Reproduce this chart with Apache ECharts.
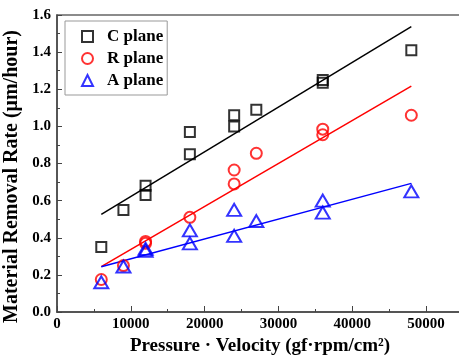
<!DOCTYPE html>
<html>
<head>
<meta charset="utf-8">
<script src="https://cdn.jsdelivr.net/npm/echarts@6/dist/echarts.min.js"></script>
<style>
  html, body { margin: 0; padding: 0; background: #fff; }
  #main { width: 459px; height: 358px; }
</style>
</head>
<body>
<div id="main"></div>
<script>
// measured points
var pvC = [6000, 9000, 12000, 12000, 18000, 18000, 24000, 24000, 27000, 36000, 36000, 48000];
var rateC = [0.35, 0.55, 0.68, 0.63, 0.97, 0.85, 1.06, 1.00, 1.09, 1.25, 1.235, 1.41];
var pvR = [6000, 9000, 12000, 12000, 18000, 24000, 24000, 27000, 36000, 36000, 48000];
var rateR = [0.175, 0.25, 0.38, 0.37, 0.51, 0.765, 0.69, 0.855, 0.985, 0.955, 1.06];
var pvA = [6000, 9000, 12000, 12000, 18000, 18000, 24000, 24000, 27000, 36000, 36000, 48000];
var rateA = [0.16, 0.245, 0.34, 0.33, 0.44, 0.37, 0.55, 0.41, 0.49, 0.60, 0.535, 0.65];
// linear fits (end points)
var fitX = [6000, 48000];
var fitC = [0.526, 1.537];
var fitR = [0.244, 1.217];
var fitA = [0.244, 0.693];
var seriesNames = ['C plane', 'R plane', 'A plane'];

function zip(xs, ys) {
	return xs.map(function (x, i) { return [x, ys[i]]; });
}

var font = '"Liberation Serif", "Times New Roman", serif';
var axisColor = '#444';

var chart = echarts.init(document.getElementById('main'));
var option = {
	animation: false,
	textStyle: { fontFamily: font },
	grid: {
		left: 57, top: 15, width: 406, bottom: 46,
		outerBoundsMode: 'none',
		show: true, borderColor: '#666', borderWidth: 1.5
	},
	legend: {
		orient: 'vertical',
		left: 65, top: 21,
		padding: [7, 4, 6, 16],
		itemGap: 5,
		itemWidth: 11, itemHeight: 11,
		borderColor: '#999', borderWidth: 1,
		textStyle: { fontFamily: font, fontWeight: 'bold', fontSize: 17, color: '#000', padding: [0, 0, 0, 9] },
		data: [
			{ name: 'C plane', icon: 'rect', itemStyle: { color: 'rgba(0,0,0,0)', borderColor: '#000', borderWidth: 2 } },
			{ name: 'R plane', icon: 'circle', itemStyle: { color: 'rgba(0,0,0,0)', borderColor: '#ff0000', borderWidth: 2 } },
			{ name: 'A plane', icon: 'triangle', itemStyle: { color: 'rgba(0,0,0,0)', borderColor: '#0000ff', borderWidth: 2 } }
		]
	},
	xAxis: {
		type: 'value', min: 0, max: 55000, interval: 10000,
		name: 'Pressure · Velocity (gf·rpm/cm²)',
		nameLocation: 'middle', nameGap: 20,
		nameTextStyle: { fontFamily: font, fontWeight: 'bold', fontSize: 19, color: '#000' },
		axisLine: { lineStyle: { color: axisColor, width: 1.5 } },
		axisTick: { inside: true, length: 6, lineStyle: { color: axisColor } },
		minorTick: { show: true, splitNumber: 2, length: 3, lineStyle: { color: axisColor } },
		axisLabel: { fontFamily: font, fontWeight: 'bold', fontSize: 15, color: '#000', margin: 5,
			formatter: function (v) { return v > 50000 ? '' : String(v); } },
		splitLine: { show: false }
	},
	yAxis: {
		type: 'value', min: 0, max: 1.6, interval: 0.2,
		name: 'Material Removal Rate (μm/hour)',
		nameLocation: 'middle', nameGap: 32,
		nameTextStyle: { fontFamily: font, fontWeight: 'bold', fontSize: 20, color: '#000', padding: [0, 26, 0, 0] },
		axisLine: { lineStyle: { color: axisColor, width: 1.5 } },
		axisTick: { inside: true, length: 5, lineStyle: { color: axisColor } },
		minorTick: { show: true, splitNumber: 2, length: 3, lineStyle: { color: axisColor } },
		axisLabel: { fontFamily: font, fontWeight: 'bold', fontSize: 15, color: '#000', margin: 6,
			formatter: function (v) { return v.toFixed(1); } },
		splitLine: { show: false }
	},
	series: [
		{
			name: seriesNames[0], type: 'scatter', symbol: 'rect', symbolSize: 10,
			itemStyle: { color: 'rgba(0,0,0,0)', borderColor: '#000', borderWidth: 2 },
			data: zip(pvC, rateC), z: 3
		},
		{
			name: seriesNames[1], type: 'scatter', symbol: 'circle', symbolSize: 11,
			itemStyle: { color: 'rgba(0,0,0,0)', borderColor: '#ff0000', borderWidth: 2 },
			data: zip(pvR, rateR), z: 3
		},
		{
			name: seriesNames[2], type: 'scatter', symbol: 'triangle', symbolSize: [14, 12],
			itemStyle: { color: 'rgba(0,0,0,0)', borderColor: '#0000ff', borderWidth: 2 },
			data: zip(pvA, rateA), z: 3
		},
		{
			name: 'C fit', type: 'line', symbol: 'none', silent: true,
			lineStyle: { color: '#000', width: 1.5 }, data: zip(fitX, fitC)
		},
		{
			name: 'R fit', type: 'line', symbol: 'none', silent: true,
			lineStyle: { color: '#ff0000', width: 1.5 }, data: zip(fitX, fitR)
		},
		{
			name: 'A fit', type: 'line', symbol: 'none', silent: true,
			lineStyle: { color: '#0000ff', width: 1.5 }, data: zip(fitX, fitA)
		}
	]
};
chart.setOption(option);
</script>
</body>
</html>
